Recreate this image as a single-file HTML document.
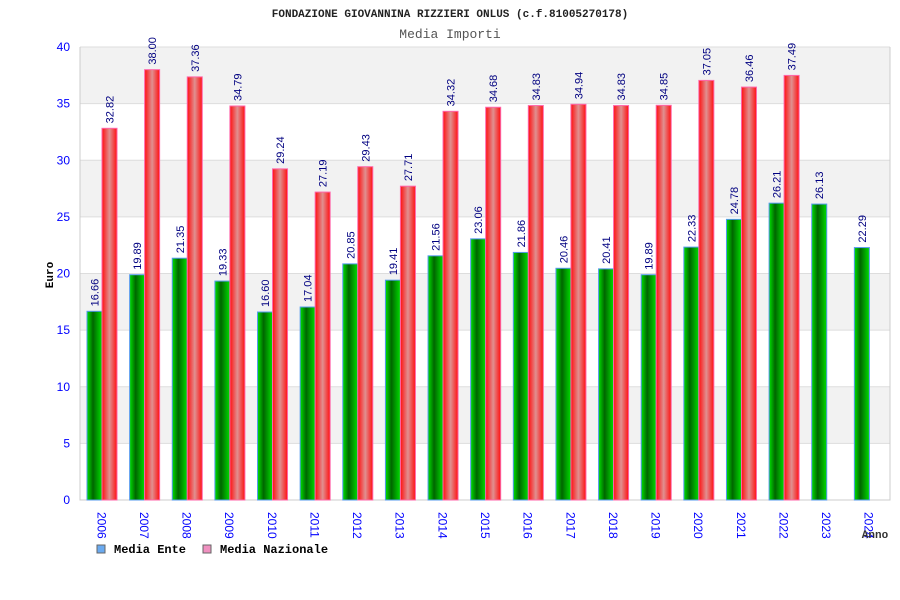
<!DOCTYPE html>
<html><head><meta charset="utf-8"><style>body{margin:0;background:#fff}svg{display:block;font-family:"Liberation Mono",monospace}</style></head><body>
<svg id="c" width="900" height="600">
<defs>
<linearGradient id="gg" x1="0" x2="1"><stop offset="0" stop-color="#00e000"/><stop offset="0.4" stop-color="#006600"/><stop offset="1" stop-color="#00dd00"/></linearGradient>
<linearGradient id="rg" x1="0" x2="1"><stop offset="0" stop-color="#ff1010"/><stop offset="0.5" stop-color="#e09090"/><stop offset="1" stop-color="#ff1010"/></linearGradient>
</defs>
<text x="450" y="17" text-anchor="middle" font-size="11" font-weight="bold" fill="#222">FONDAZIONE GIOVANNINA RIZZIERI ONLUS (c.f.81005270178)</text>
<text x="450" y="38" text-anchor="middle" font-size="13" fill="#555">Media Importi</text>
<g id="grid"></g><g id="bars"></g><g id="labels"></g>
<text transform="translate(53,275) rotate(-90)" text-anchor="middle" font-size="11" font-weight="bold" fill="#000">Euro</text>
<text x="875" y="538" text-anchor="middle" font-size="11" font-weight="bold" fill="#333">Anno</text>
<g>
<rect x="97" y="545" width="8" height="8" fill="#6aaaf0" stroke="#666"/>
<text x="114" y="553" font-size="12" font-weight="bold">Media Ente</text>
<rect x="203" y="545" width="8" height="8" fill="#f090c0" stroke="#666"/>
<text x="220" y="553" font-size="12" font-weight="bold">Media Nazionale</text>
</g>
</svg>
<script>
const years=["2006","2007","2008","2009","2010","2011","2012","2013","2014","2015","2016","2017","2018","2019","2020","2021","2022","2023","2024"];
const ente=[16.66,19.89,21.35,19.33,16.60,17.04,20.85,19.41,21.56,23.06,21.86,20.46,20.41,19.89,22.33,24.78,26.21,26.13,22.29];
const nazionale=[32.82,38.00,37.36,34.79,29.24,27.19,29.43,27.71,34.32,34.68,34.83,34.94,34.83,34.85,37.05,36.46,37.49,null,null];
const yTicks=[0,5,10,15,20,25,30,35,40];
const NS="http://www.w3.org/2000/svg";
const L=80,R=890,T=47,B=500,yMax=40;
const y=v=>B-v*(B-T)/yMax;
const gw=(R-L)/years.length;
const x=i=>L+i*gw;
function mk(t,a,p){const e=document.createElementNS(NS,t);for(const k in a)e.setAttribute(k,a[k]);p.appendChild(e);return e;}
const grid=document.getElementById('grid'),bars=document.getElementById('bars'),lab=document.getElementById('labels');
for(let k=0;k<yTicks.length-1;k++){
 const r=mk('rect',{x:L,y:y(yTicks[k+1]),width:R-L,height:y(yTicks[k])-y(yTicks[k+1]),fill:(k%2==1)?'#f2f2f2':'#fff'},grid);
 
 
}
yTicks.forEach(t=>{
 const l=mk('line',{x1:L,x2:R,y1:y(t),y2:y(t),stroke:'#ddd'},grid);
 
 
 const tx=mk('text',{x:70,y:y(t)+4,'text-anchor':'end','font-size':12,fill:'#00f','font-family':'Liberation Sans, sans-serif'},grid);tx.textContent=t;
 
 
});
const ax=mk('path',{d:`M${L},${T}V${B}H${R}V${T}`,stroke:'#ccc',fill:'none'},grid);


function val(cx,v){
 const t=mk('text',{transform:`translate(${cx+4},${y(v)-5}) rotate(-90)`,'font-size':11,fill:'#000080','font-family':'Liberation Sans, sans-serif'},lab);t.textContent=v.toFixed(2);
 
 
}
years.forEach((yr,i)=>{
 const x0=x(i);
 const g=mk('rect',{x:x0+7,y:y(ente[i]),width:15,height:B-y(ente[i]),fill:'url(#gg)',stroke:'#5599ee','stroke-width':1},bars);
 
 
 val(x0+14.5,ente[i]);
 if(nazionale[i]!=null){
  const r=mk('rect',{x:x0+22,y:y(nazionale[i]),width:15,height:B-y(nazionale[i]),fill:'url(#rg)',stroke:'#ff66aa','stroke-width':1},bars);
  
  
  val(x0+29.5,nazionale[i]);
 }
 const t=mk('text',{transform:`translate(${x0+gw/2-4},${512}) rotate(90)`,'font-size':12,fill:'#00f','font-family':'Liberation Sans, sans-serif'},lab);t.textContent=yr;
 
 
});
</script>
</body></html>
